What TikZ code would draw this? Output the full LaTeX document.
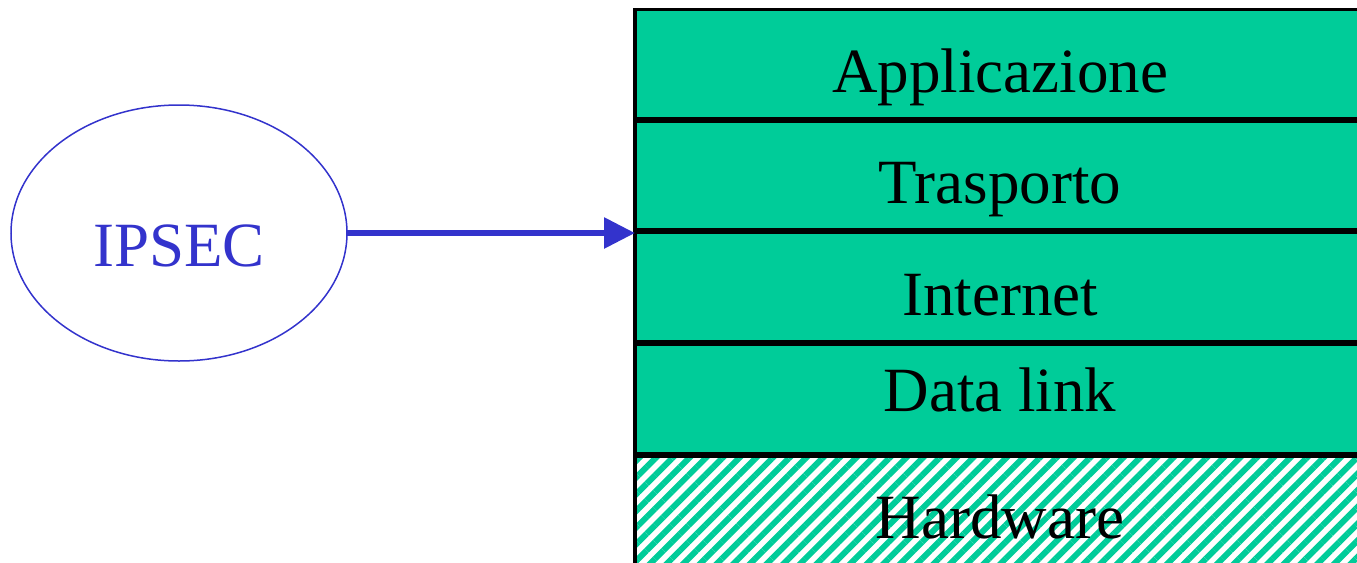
\documentclass[tikz,border=0pt]{standalone}
\usepackage{fontspec}
\setmainfont{Liberation Serif}
\usetikzlibrary{positioning,shapes.geometric,arrows.meta,patterns.meta}
\definecolor{layergreen}{RGB}{0,204,153}
\definecolor{ipsecblue}{RGB}{51,51,204}

\begin{document}
\begin{tikzpicture}[
x=0.5pt,y=-0.5pt,
>={Triangle[length=15.5pt,width=15pt]},
every node/.style={font=\fontsize{31.5}{38}\selectfont,inner sep=0pt,outer sep=0pt},
layerbox/.style={draw,line width=1.75pt,minimum width=365pt,minimum height=54.55pt,
	text height=28.2pt,text depth=0pt},
layer/.style={layerbox,fill=layergreen},
hwlayer/.style={layerbox,pattern={Lines[angle=45,distance=5.9pt,line width=3pt]},
	pattern color=layergreen},
ipsecnode/.style={ellipse,draw=ipsecblue,line width=0.75pt,text=ipsecblue,
	minimum width=168pt,minimum height=128pt,text height=33pt,text depth=0pt},
node distance=1.25pt
]
\clip (0,0) rectangle (1357,563);

\node[ipsecnode] (ipsec) at (179,233) {IPSEC};

% protocol stack
\node[layer] (app) at (1000,64) {Applicazione};
	\node[layer] (tra) [below=of app] {Trasporto};
	\node[layer] (int) [below=of tra] {Internet};
	\node[layer,text height=12.9pt] (dat) [below=of int] {Data link};
	\node[hwlayer] (hw) [below=of dat] {Hardware};

\draw[->,ipsecblue,line width=3pt] (ipsec.east) -- (ipsec.east -| app.west);

\end{tikzpicture}
\end{document}
